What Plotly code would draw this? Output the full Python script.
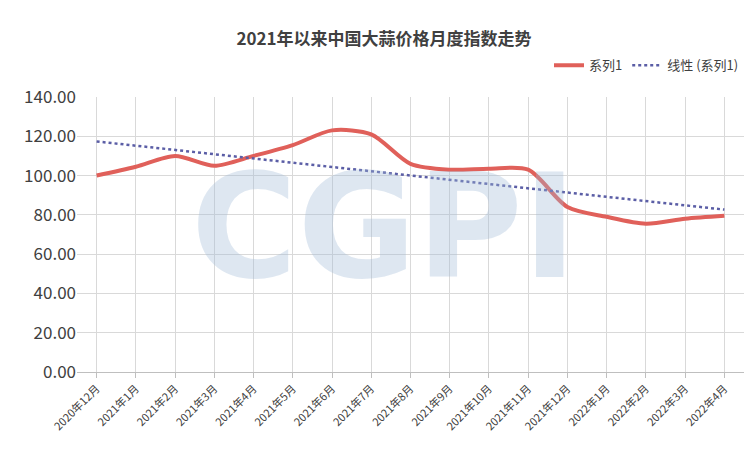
import numpy as np
import plotly.graph_objects as go

months = ["2020年12月", "2021年1月", "2021年2月", "2021年3月", "2021年4月", "2021年5月",
          "2021年6月", "2021年7月", "2021年8月", "2021年9月", "2021年10月", "2021年11月",
          "2021年12月", "2022年1月", "2022年2月", "2022年3月", "2022年4月"]
index_vals = [100, 104.5, 110, 105, 110, 115.5, 123, 121, 106, 103, 103.5, 103,
              84, 79, 75.5, 78, 79.5]

xi = np.arange(len(index_vals))
k, b = np.polyfit(xi, index_vals, 1)
trend = k * xi + b

font = "Microsoft YaHei, Noto Sans CJK SC, sans-serif"
fig = go.Figure()
fig.add_trace(go.Scatter(x=months, y=index_vals, mode="lines", name="系列1",
                         line=dict(color="#E0605A", width=4, shape="spline", smoothing=0.8)))
fig.add_trace(go.Scatter(x=months, y=trend, mode="lines", name="线性 (系列1)",
                         line=dict(color="#5B5EA6", width=2.5, dash="dot")))

fig.add_annotation(text="<b>CGPI</b>", x=0.46, y=0.53, xref="paper", yref="paper", showarrow=False,
                   font=dict(family="DejaVu Sans, sans-serif", size=145, color="rgba(160,185,215,0.35)"))

fig.update_layout(
    width=752, height=465, paper_bgcolor="white", plot_bgcolor="white",
    font=dict(family=font, size=13, color="#404040"),
    title=dict(text="<b>2021年以来中国大蒜价格月度指数走势</b>", x=0.5, y=0.945,
               font=dict(size=17, color="#404040")),
    margin=dict(l=69, r=16, t=89, b=101, autoexpand=False),
    legend=dict(orientation="h", x=1, xanchor="right", y=1.17, yanchor="top",
                font=dict(size=13)),
    xaxis=dict(tickangle=-45, showgrid=True, gridcolor="#D9D9D9", linecolor="#BFBFBF",
               ticks="outside", tickcolor="#BFBFBF", tickfont=dict(size=11, color="#404040"),
               range=[-0.5, 16.5], automargin=False),
    yaxis=dict(range=[0, 140], dtick=20, tickformat=".2f", showgrid=True, gridcolor="#D9D9D9",
               zeroline=False, tickfont=dict(size=17, color="#404040"), automargin=False),
)
fig.write_html("out.html")
